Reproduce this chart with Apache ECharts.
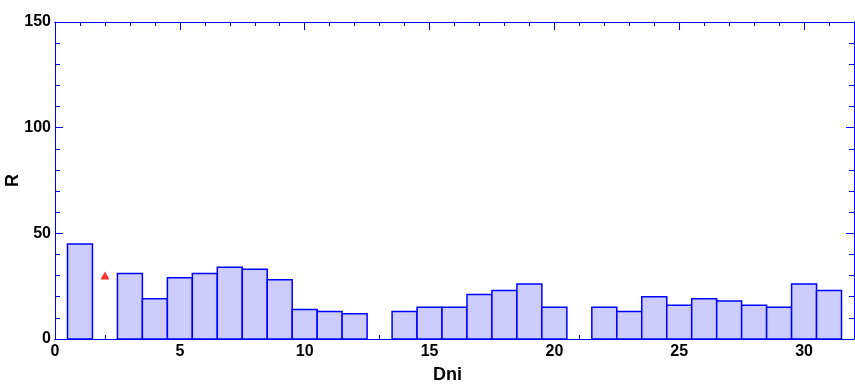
<!DOCTYPE html>
<html>
<head>
<meta charset="utf-8">
<script src="https://cdn.jsdelivr.net/npm/echarts@6/dist/echarts.min.js"></script>
<style>
html,body{margin:0;padding:0;background:#fff;}
#chart{width:855px;height:384px;}
</style>
</head>
<body>
<div id="chart"></div>
<script>
// Days with bars and their R values
const barDays   = [1, 3, 4, 5, 6, 7, 8, 9, 10, 11, 12, 14, 15, 16, 17, 18, 19, 20, 22, 23, 24, 25, 26, 27, 28, 29, 30, 31];
const barValues = [45, 31, 19, 29, 31, 34, 33, 28, 14, 13, 12, 13, 15, 15, 21, 23, 26, 15, 15, 13, 20, 16, 19, 18, 16, 15, 26, 23];
// Single marker point
const markerDays   = [2];
const markerValues = [30];

const xTitle = 'Dni';
const yTitle = 'R';

const blue = '#0000ff';
const fontFam = '"Liberation Sans", Arial, sans-serif';

const barData = barDays.map((d, i) => [d, barValues[i]]);
const markerData = markerDays.map((d, i) => [d, markerValues[i]]);

function xAxisDef(pos, interval, tickLen, showLabel, showName) {
  return {
    type: 'value', position: pos, min: 0, max: 32, interval: interval,
    axisLine: { show: true, onZero: false, lineStyle: { color: blue, width: 1 } },
    axisTick: { show: true, inside: true, length: tickLen, lineStyle: { color: blue, width: 1 } },
    splitLine: { show: false },
    axisLabel: {
      show: showLabel, showMaxLabel: false, color: '#000', fontWeight: 'bold',
      fontSize: 16, fontFamily: fontFam, margin: 5
    },
    name: showName ? xTitle : '',
    nameLocation: 'middle', nameGap: 27, nameMoveOverlap: false,
    nameTextStyle: { color: '#000', fontWeight: 'bold', fontSize: 18, fontFamily: fontFam, padding: [0, 14, 0, 0] }
  };
}

function yAxisDef(pos, showLabel, showName) {
  return {
    type: 'value', position: pos, min: 0, max: 150, interval: 50,
    axisLine: { show: true, onZero: false, lineStyle: { color: blue, width: 1 } },
    axisTick: { show: true, inside: true, length: 8, lineStyle: { color: blue, width: 1 } },
    minorTick: { show: true, splitNumber: 5, length: 5, lineStyle: { color: blue, width: 1 } },
    splitLine: { show: false },
    axisLabel: {
      show: showLabel, color: '#000', fontWeight: 'bold',
      fontSize: 16, fontFamily: fontFam, margin: 4
    },
    name: showName ? yTitle : '',
    nameLocation: 'middle', nameGap: 33, nameRotate: 90, nameMoveOverlap: false,
    nameTextStyle: { color: '#000', fontWeight: 'bold', fontSize: 18, fontFamily: fontFam }
  };
}

const chart = echarts.init(document.getElementById('chart'), null, { renderer: 'canvas' });
chart.setOption({
  animation: false,
  backgroundColor: '#fff',
  grid: { left: 55, right: 1, top: 22, bottom: 45, containLabel: false, outerBoundsMode: 'none' },
  xAxis: [
    xAxisDef('bottom', 5, 8, true, true),
    xAxisDef('bottom', 1, 4, false, false),
    xAxisDef('top', 5, 8, false, false),
    xAxisDef('top', 1, 4, false, false)
  ],
  yAxis: [
    yAxisDef('left', true, true),
    yAxisDef('right', false, false)
  ],
  series: [
    {
      type: 'custom',
      xAxisIndex: 0, yAxisIndex: 0,
      data: barData,
      renderItem: function (params, api) {
        const d = api.value(0), v = api.value(1);
        const p0 = api.coord([d - 0.5, v]);
        const p1 = api.coord([d + 0.5, 0]);
        return {
          type: 'rect',
          shape: { x: p0[0], y: p0[1], width: p1[0] - p0[0], height: p1[1] - p0[1] },
          style: { fill: '#ccccff', stroke: blue, lineWidth: 1.5 }
        };
      },
      z: 3
    },
    {
      type: 'scatter',
      xAxisIndex: 0, yAxisIndex: 0,
      data: markerData,
      symbol: 'triangle',
      symbolSize: [9, 8],
      itemStyle: { color: '#ff0000' },
      z: 4
    }
  ]
});
</script>
</body>
</html>
